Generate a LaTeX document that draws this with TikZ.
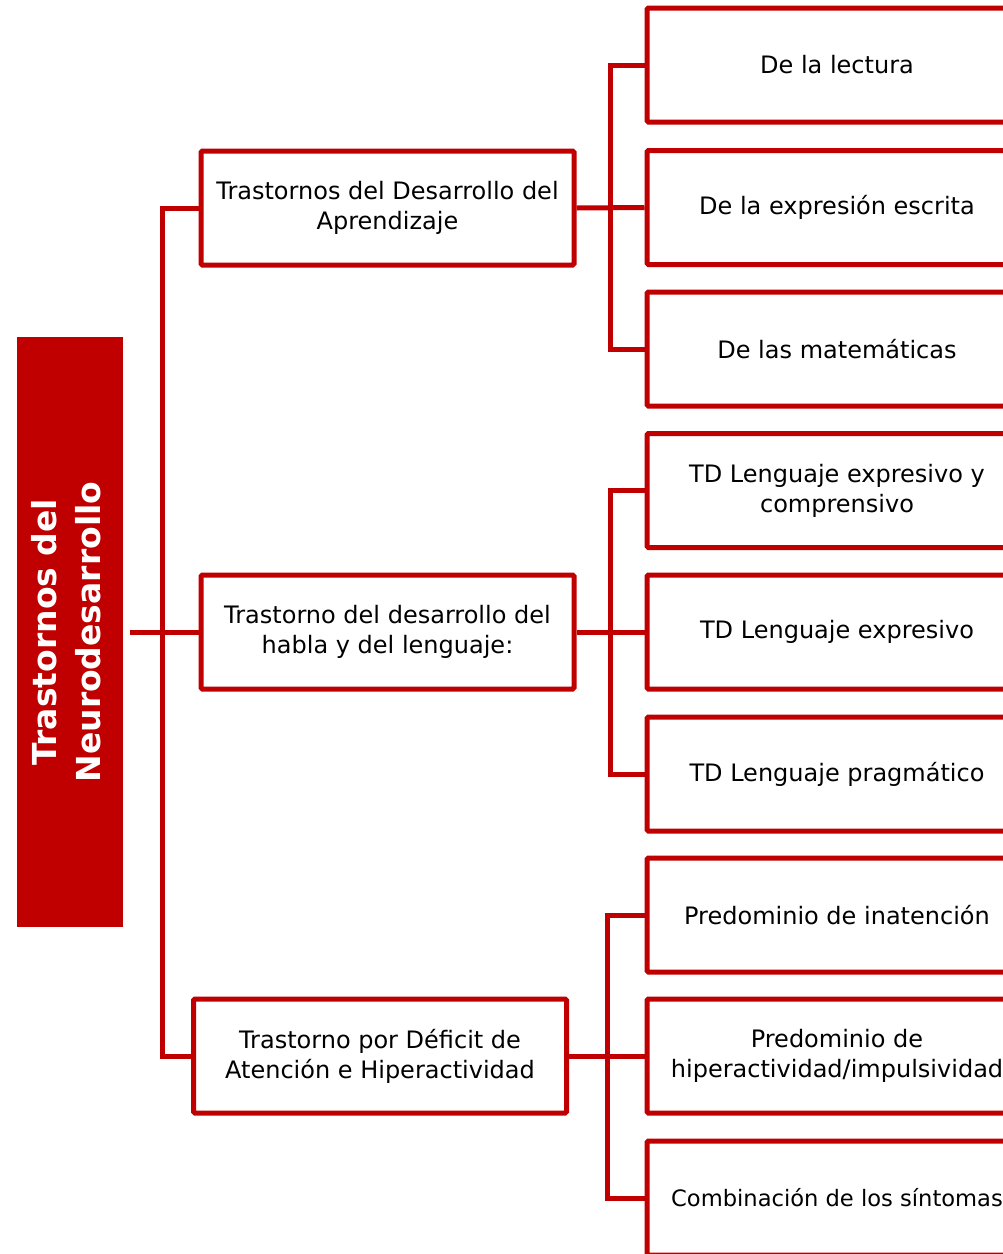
\documentclass[tikz,border=0pt]{standalone}
\usepackage{fontspec}
\setmainfont{DejaVu Sans}
\definecolor{tdred}{HTML}{C00000}

\tikzset{
  rootbox/.style={fill=tdred, text=white, minimum width=106pt, minimum height=590pt,
    font=\fontsize{33}{44}\selectfont\bfseries, align=center, inner sep=0pt},
  groupbox/.style={draw=tdred, line width=5pt, rounded corners=1.5pt, fill=white,
    minimum width=373pt, minimum height=114pt, align=center,
    font=\fontsize{24}{30}\selectfont, inner sep=2pt},
  leafbox/.style={groupbox, minimum width=380pt},
  link/.style={draw=tdred, line width=5pt}
}

\begin{document}
\begin{tikzpicture}[x=1pt,y=-1pt]
\useasboundingbox (0,0) rectangle (1003,1254);
\clip (0,0) rectangle (1003,1254);

\node[rootbox] (root) at (70,632) {\rotatebox{90}{\begin{tabular}{@{}c@{}}Trastornos del\\Neurodesarrollo\end{tabular}}};

\node[groupbox] (aprend) at (387.5,208) {Trastornos del Desarrollo del\\Aprendizaje};
\node[groupbox] (habla) at (387.5,632) {Trastorno del desarrollo del\\habla y del lenguaje:};
\node[groupbox] (tdah) at (380,1056) {Trastorno por Déficit de\\Atención e Hiperactividad};

\node[leafbox] (lectura) at (837,65) {De la lectura};
\node[leafbox] (escrita) at (837,207.5) {De la expresión escrita};
\node[leafbox] (mate) at (837,349) {De las matemáticas};

\node[leafbox] (expcomp) at (837,490.5) {TD Lenguaje expresivo y\\comprensivo};
\node[leafbox] (expr) at (837,632) {TD Lenguaje expresivo};
\node[leafbox] (pragm) at (837,774) {TD Lenguaje pragmático};

\node[leafbox] (inaten) at (837,915) {Predominio de inatención};
\node[leafbox] (hiper) at (837,1056) {Predominio de\\hiperactividad/impulsividad};
\node[leafbox, font=\fontsize{22.6}{30}\selectfont] (combi) at (837,1198) {Combinación de los síntomas};

\coordinate (trunk) at (162,632);
\coordinate (fork1) at (610,208);
\coordinate (fork2) at (610,632);
\coordinate (fork3) at (607,1056);

% tronco principal
\draw[link, shorten <=7pt] (root.east) -- (habla.west);
\draw[link] (aprend.west) -| (trunk) |- (tdah.west);

% ramas
\draw[link] (lectura.west) -| (fork1) |- (mate.west);
\draw[link] (aprend.east) -- (escrita.west);
\draw[link] (expcomp.west) -| (fork2) |- (pragm.west);
\draw[link] (habla.east) -- (expr.west);
\draw[link] (inaten.west) -| (fork3) |- (combi.west);
\draw[link] (tdah.east) -- (hiper.west);
\end{tikzpicture}
\end{document}
